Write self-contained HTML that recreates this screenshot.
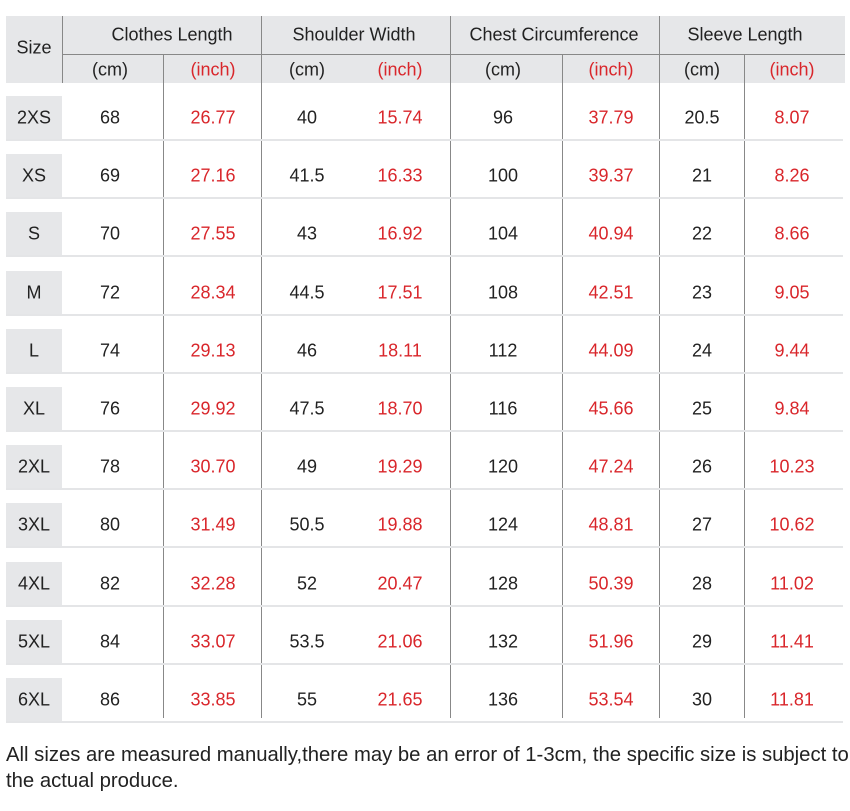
<!DOCTYPE html>
<html><head><meta charset="utf-8"><style>
body{margin:0;width:850px;height:811px;background:#fff;position:relative;overflow:hidden;font-family:"Liberation Sans",sans-serif}
div{position:absolute}
.t{transform:translate(-50%,-50%);white-space:nowrap;font-size:18px;color:#222}
.r{color:#d9262b}
.h{font-size:18px}
</style></head><body>
<div style="left:6px;top:16px;width:839px;height:67px;background:#e6e7e9"></div>
<div style="left:62px;top:16px;width:1px;height:67px;background:#888"></div>
<div style="left:62px;top:54px;width:783px;height:1px;background:#888"></div>
<div id="c"></div>
<div style="left:6px;top:742px;font-size:20.3px;line-height:26px;color:#222;width:850px">All sizes are measured manually,there may be an error of 1-3cm, the specific size is subject to<br>the actual produce.</div>
<script>
var h='';
function T(x,y,s,cl){h+='<div class="t '+(cl||'')+'" style="left:'+x+'px;top:'+y+'px">'+s+'</div>';}
[261,450,659].forEach(x=>h+='<div style="left:'+x+'px;top:16px;width:1px;height:702px;background:#888"></div>');
[163,562,744].forEach(x=>h+='<div style="left:'+x+'px;top:55px;width:1px;height:663px;background:#888"></div>');
T(34,48,'Size','h');T(172,35,'Clothes Length','h');T(354,35,'Shoulder Width','h');T(554,35,'Chest Circumference','h');T(745,35,'Sleeve Length','h');
var xs=[110,213,307,400,503,611,702,792];
xs.forEach((x,i)=>T(x,70,i%2?'(inch)':'(cm)',i%2?'r h':'h'));
var d=[['2XS',68,'26.77',40,'15.74',96,'37.79',20.5,'8.07'],['XS',69,'27.16',41.5,'16.33',100,'39.37',21,'8.26'],['S',70,'27.55',43,'16.92',104,'40.94',22,'8.66'],['M',72,'28.34',44.5,'17.51',108,'42.51',23,'9.05'],['L',74,'29.13',46,'18.11',112,'44.09',24,'9.44'],['XL',76,'29.92',47.5,'18.70',116,'45.66',25,'9.84'],['2XL',78,'30.70',49,'19.29',120,'47.24',26,'10.23'],['3XL',80,'31.49',50.5,'19.88',124,'48.81',27,'10.62'],['4XL',82,'32.28',52,'20.47',128,'50.39',28,'11.02'],['5XL',84,'33.07',53.5,'21.06',132,'51.96',29,'11.41'],['6XL',86,'33.85',55,'21.65',136,'53.54',30,'11.81']];
d.forEach((r,i)=>{var y=Math.round(118+i*58.2);
h+='<div style="left:6px;top:'+(y-22)+'px;width:56px;height:43px;background:#e6e7e9"></div>';
h+='<div style="left:6px;top:'+(y+21)+'px;width:837px;height:2px;background:#e4e5e7"></div>';
T(34,y,r[0]);xs.forEach((x,j)=>T(x,y,r[j+1],j%2?'r':''));});
document.getElementById('c').outerHTML=h;
</script>
</body></html>
